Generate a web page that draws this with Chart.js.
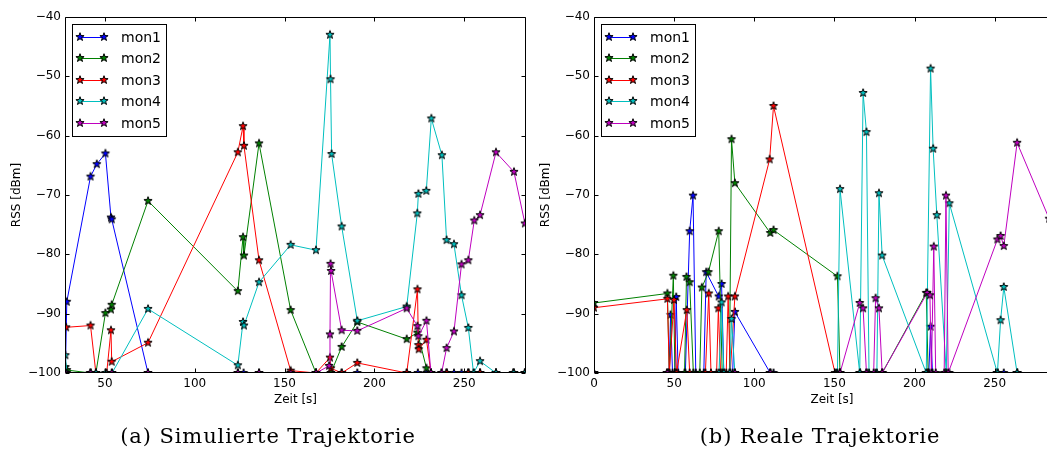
<!DOCTYPE html>
<html><head><meta charset="utf-8">
<script src="https://cdn.jsdelivr.net/npm/chart.js@4.4.1/dist/chart.umd.min.js"></script>
<style>
html,body{margin:0;padding:0;background:#fff;width:1047px;height:454px;overflow:hidden;}
#wrap{position:relative;width:1047px;height:454px;overflow:hidden;}
canvas{position:absolute;top:0;}
.cap{position:absolute;font-family:"DejaVu Serif",serif;font-size:21px;letter-spacing:0.9px;white-space:nowrap;transform:translateX(-50%);top:424px;color:#000;}
</style></head>
<body><div id="wrap">
<canvas id="cA" width="540" height="454" style="left:0;width:540px;height:454px"></canvas>
<canvas id="cB" width="576" height="454" style="left:500px;width:576px;height:454px"></canvas>
<div class="cap" style="left:268px">(a) Simulierte Trajektorie</div>
<div class="cap" style="left:820px">(b) Reale Trajektorie</div>
</div>
<script>
// ---------- labels / ticks ----------
const SERIES_NAMES = ['mon1','mon2','mon3','mon4','mon5'];
const SERIES_COLORS = ['#0000ff','#008000','#ff0000','#00bfbf','#bf00bf'];
const Y_TICKS = [-100,-90,-80,-70,-60,-50,-40];
const SIM_X_TICKS = [50,100,150,200,250];
const REAL_X_TICKS = [0,50,100,150,200,250];
const SIM_X_RANGE = [27.8, 284.4];
const REAL_X_RANGE = [0, 297];
const Y_RANGE = [-100, -40];

// ---------- (a) simulated trajectory ----------
const SIM_MON1_T = [28.0,28.8,42.0,45.5,50.3,53.4,53.8,74.0,124.0,127.2,135.8,153.4,167.5,175.8,181.8,190.5,218.0,224.2,229.0,231.5,237.4,240.2,244.3,248.5,252.3,255.4,258.8,267.7,277.5,283.8];
const SIM_MON1_V = [-100,-88.0,-66.9,-64.8,-63.0,-73.8,-74.1,-100,-100,-100,-100,-100,-100,-100,-100,-100,-100,-100,-100,-100,-100,-100,-100,-100,-100,-100,-100,-100,-100,-100];
const SIM_MON2_T = [28.0,28.8,42.0,45.0,50.3,53.4,53.8,74.0,124.0,126.9,127.4,135.8,153.4,167.5,175.8,181.8,190.5,218.0,224.0,229.0,231.5,240.2,252.3,258.8,267.7,277.5,283.8];
const SIM_MON2_V = [-99.0,-99.5,-100,-100,-89.9,-89.3,-88.5,-71.0,-86.2,-77.1,-80.2,-61.3,-89.4,-100,-100,-95.6,-91.4,-94.3,-93.2,-99.2,-100,-100,-100,-100,-100,-100,-100];
const SIM_MON3_T = [28.4,42.0,45.0,51.0,53.4,53.8,74.0,124.0,126.9,127.4,135.8,153.4,167.5,175.3,175.8,181.8,190.5,218.0,224.0,224.5,224.7,229.0,231.5,240.2,252.3,258.8,267.7,277.5,283.8];
const SIM_MON3_V = [-92.3,-92.0,-100,-100,-92.8,-98.1,-94.9,-62.8,-58.4,-61.7,-81.0,-99.6,-100,-97.4,-99.2,-100,-98.3,-100,-85.9,-95.3,-96.0,-94.4,-100,-100,-100,-100,-100,-100,-100];
const SIM_MON4_T = [28.0,28.8,42.0,45.0,50.3,54.0,74.0,124.0,126.9,127.4,135.8,153.4,167.5,175.3,175.6,176.2,181.8,190.5,218.0,223.9,224.5,228.9,231.7,237.6,240.2,244.3,248.5,252.3,255.2,258.8,267.7,277.5,283.8];
const SIM_MON4_V = [-97.0,-100,-100,-100,-100,-100,-89.2,-98.7,-91.4,-92.0,-84.7,-78.4,-79.3,-43.0,-50.5,-63.1,-75.3,-91.2,-88.8,-73.1,-69.8,-69.3,-57.1,-63.3,-77.6,-78.3,-86.9,-92.4,-100,-98.0,-100,-100,-100];
const SIM_MON5_T = [28.0,42.0,53.8,74.0,124.0,135.8,153.4,167.5,174.8,175.3,175.6,175.9,181.8,190.5,218.0,224.0,224.5,229.0,231.5,237.4,240.2,244.3,248.5,252.3,255.6,258.8,267.7,277.7,283.8];
const SIM_MON5_V = [-100,-100,-100,-100,-100,-100,-100,-100,-98.8,-93.5,-81.6,-82.8,-92.8,-92.9,-89.1,-92.1,-93.8,-91.2,-100,-100,-95.8,-93.0,-81.7,-81.0,-74.3,-73.4,-62.8,-66.1,-74.8];

// ---------- (b) real trajectory ----------
const REAL_MON1_T = [0,45.5,46.8,47.8,49.0,50.5,51.3,52.5,57.0,59.7,61.8,63.5,68.5,70.0,77.8,79.6,81.0,86.5,87.9,110.0,112.0,151.5,153.5,166,170,175.7,179.8,207.3,208.9,210.0,211.2,219.6,221.7,251.7,255.7,264.0,290];
const REAL_MON1_V = [-100,-100,-100,-90.2,-100,-100,-87.2,-100,-100,-76.1,-70.1,-100,-100,-83.0,-87.1,-85.0,-100,-100,-89.7,-100,-100,-100,-100,-100,-100,-100,-100,-100,-100,-92.2,-100,-100,-100,-100,-100,-100,-100];
const REAL_MON2_T = [0,45.8,47.0,49.5,50.5,56.5,57.7,59.7,62.0,66.0,67.3,71.4,77.8,80.0,84.5,85.8,87.9,110.0,112.0,151.9,153.5,166,170,179.8,207.3,208.5,219.6,251.7,264,290];
const REAL_MON2_V = [-88.2,-86.6,-100,-83.6,-100,-100,-83.8,-84.7,-100,-100,-85.6,-83.0,-76.1,-100,-100,-60.6,-68.0,-76.4,-75.9,-83.7,-100,-100,-100,-100,-86.5,-100,-100,-100,-100,-100];
const REAL_MON3_T = [0,45.8,47.0,49.9,51.5,57.9,59.7,69.5,71.6,73.0,76.5,77.6,79.0,82.5,83.7,85.0,87.9,109.6,112.0,150.4,153.5,166,179.8,208.5,219.6,251.7,264,290];
const REAL_MON3_V = [-89.0,-87.5,-100,-87.7,-100,-89.4,-100,-100,-86.6,-100,-100,-89.1,-100,-100,-87.1,-100,-87.1,-64.0,-55.0,-100,-100,-100,-100,-100,-100,-100,-100,-100];
const REAL_MON4_T = [0,45.8,78.0,79.6,81.0,84.8,85.8,87.9,110.0,151.9,153.5,165.8,167.9,170.0,171.6,176.5,177.8,179.8,207.3,210.0,211.6,213.9,219.8,221.7,251.7,253.7,255.7,264.0,290];
const REAL_MON4_V = [-100,-100,-100,-88.1,-100,-100,-90.9,-100,-100,-100,-69.0,-100,-52.8,-59.4,-100,-100,-69.7,-80.2,-100,-48.7,-62.2,-73.4,-100,-71.4,-100,-91.1,-85.5,-100,-100];
const REAL_MON5_T = [0,45.8,87.9,110,153.5,165.8,167.9,170.0,174.5,175.7,177.8,179.8,207.9,209.6,210.5,212.0,213.2,218.5,219.6,221.0,251.7,253.7,255.7,264.0,284];
const REAL_MON5_V = [-100,-100,-100,-100,-100,-88.2,-89.1,-100,-100,-87.4,-89.1,-100,-86.5,-86.9,-100,-78.7,-100,-100,-70.1,-100,-77.5,-76.9,-78.6,-61.2,-74.0];

const SIM_T = [SIM_MON1_T,SIM_MON2_T,SIM_MON3_T,SIM_MON4_T,SIM_MON5_T];
const SIM_V = [SIM_MON1_V,SIM_MON2_V,SIM_MON3_V,SIM_MON4_V,SIM_MON5_V];
const REAL_T = [REAL_MON1_T,REAL_MON2_T,REAL_MON3_T,REAL_MON4_T,REAL_MON5_T];
const REAL_V = [REAL_MON1_V,REAL_MON2_V,REAL_MON3_V,REAL_MON4_V,REAL_MON5_V];

// ---------- drawing helpers ----------
const FONT = 'DejaVu Sans';
function starImg(color){
  const c=document.createElement('canvas'); c.width=12; c.height=12;
  const g=c.getContext('2d');
  const cx=6,cy=6,R=4.3,r=R*0.40;
  g.beginPath();
  for(let k=0;k<10;k++){
    const a=-Math.PI/2+k*Math.PI/5, rad=(k%2)?r:R;
    g.lineTo(cx+rad*Math.cos(a), cy+rad*Math.sin(a));
  }
  g.closePath(); g.fillStyle=color; g.fill();
  g.lineWidth=1; g.strokeStyle='#000'; g.lineJoin='miter'; g.stroke();
  return c;
}
const STARS = SERIES_COLORS.map(starImg);
const fmt = v => String(v).replace('-', '\u2212');

const framePlugin = {
  id:'frame',
  afterDraw(chart){
    const o = chart.options.plugins.frame;
    const {ctx, chartArea:a, scales:{x,y}} = chart;
    const L=Math.round(a.left)+0.5, R=Math.round(a.right)-0.5, T=Math.round(a.top)+0.5, B=Math.round(a.bottom)-0.5;
    ctx.save();
    ctx.strokeStyle='#000'; ctx.lineWidth=1;
    ctx.beginPath();
    ctx.moveTo(L,T); ctx.lineTo(R,T); ctx.lineTo(R,B); ctx.lineTo(L,B); ctx.closePath();
    ctx.stroke();
    ctx.beginPath();
    o.xticks.forEach(v=>{
      const px=Math.round(x.getPixelForValue(v))+0.5;
      ctx.moveTo(px,B); ctx.lineTo(px,B-4);
      ctx.moveTo(px,T); ctx.lineTo(px,T+4);
    });
    Y_TICKS.forEach(v=>{
      const py=Math.round(y.getPixelForValue(v))+0.5;
      ctx.moveTo(L,py); ctx.lineTo(L+4,py);
      ctx.moveTo(R,py); ctx.lineTo(R-4,py);
    });
    ctx.stroke();
    // legend
    const bx=Math.round(a.left)+7.5, by=Math.round(a.top)+7.5, bw=94, bh=112;
    ctx.fillStyle='#fff'; ctx.fillRect(bx,by,bw,bh);
    ctx.strokeStyle='#000'; ctx.strokeRect(bx,by,bw,bh);
    ctx.font='14px "'+FONT+'"'; ctx.textBaseline='middle'; ctx.textAlign='left';
    SERIES_NAMES.forEach((n,i)=>{
      const ly = Math.round(by+12+i*21.5)+0.5;
      const x0=bx+7, x1=bx+31;
      ctx.strokeStyle=SERIES_COLORS[i]; ctx.lineWidth=1;
      ctx.beginPath(); ctx.moveTo(x0,ly); ctx.lineTo(x1,ly); ctx.stroke();
      ctx.drawImage(STARS[i], Math.round(x0-6), Math.round(ly-6.5));
      ctx.drawImage(STARS[i], Math.round(x1-6), Math.round(ly-6.5));
      ctx.fillStyle='#000';
      ctx.fillText(n, bx+48.5, ly+1);
    });
    ctx.restore();
  }
};

function makeChart(id, T, V, xr, xticks, yTitlePad, padRight){
  const datasets = SERIES_NAMES.map((n,i)=>({
    label:n,
    data: T[i].map((t,k)=>({x:t, y:V[i][k]})),
    borderColor: SERIES_COLORS[i],
    backgroundColor: SERIES_COLORS[i],
    borderWidth: 1,
    pointStyle: STARS[i],
    pointRadius: 5,
    pointHoverRadius: 5,
    tension: 0,
    fill: false,
    clip: 0,
    order: 4-i
  }));
  return new Chart(document.getElementById(id), {
    type:'line',
    data:{datasets},
    plugins:[framePlugin],
    options:{
      responsive:false, animation:false, devicePixelRatio:1, events:[],
      layout:{padding:{left:0, top:17, right:padRight, bottom:42}},
      plugins:{legend:{display:false}, tooltip:{enabled:false}, frame:{xticks}},
      scales:{
        x:{
          type:'linear', min:xr[0], max:xr[1],
          afterFit(s){ s.height = 39; },
          afterBuildTicks(s){ s.ticks = xticks.map(v=>({value:v})); },
          grid:{display:false, drawTicks:false}, border:{display:false},
          ticks:{color:'#000', font:{family:FONT, size:12}, padding:4, maxRotation:0, autoSkip:false, callback:v=>fmt(v)},
          title:{display:true, text:'Zeit [s]', color:'#000', font:{family:FONT, size:12}, padding:{top:0, bottom:5}}
        },
        y:{
          type:'linear', min:Y_RANGE[0], max:Y_RANGE[1],
          afterFit(s){ s.width = id==='cA' ? 65 : 94; },
          afterBuildTicks(s){ s.ticks = Y_TICKS.map(v=>({value:v})); },
          grid:{display:false, drawTicks:false}, border:{display:false},
          ticks:{color:'#000', font:{family:FONT, size:12}, padding:4, autoSkip:false, callback:v=>fmt(v)},
          title:{display:true, text:'RSS [dBm]', color:'#000', font:{family:FONT, size:12}, padding:{top:yTitlePad, bottom:0}}
        }
      }
    }
  });
}
makeChart('cA', SIM_T, SIM_V, SIM_X_RANGE, SIM_X_TICKS, 10, 14);
makeChart('cB', REAL_T, REAL_V, REAL_X_RANGE, REAL_X_TICKS, 39, 0);
</script>
</body></html>
